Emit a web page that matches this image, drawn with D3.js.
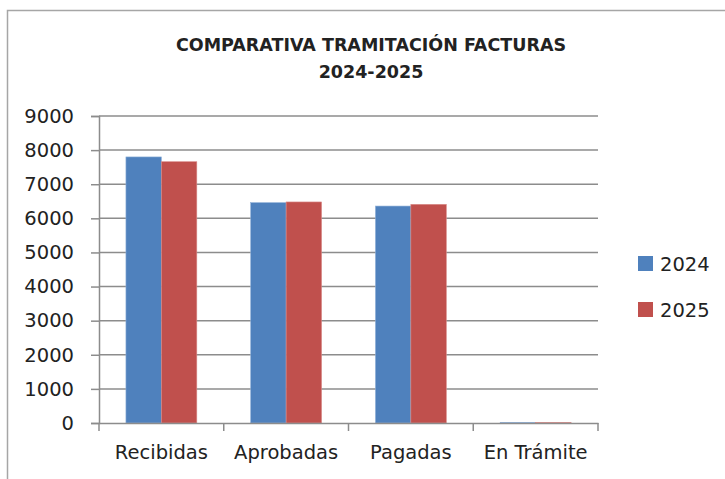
<!DOCTYPE html>
<html>
<head>
<meta charset="utf-8">
<script src="https://cdn.jsdelivr.net/npm/d3@7"></script>
<style>
  body { margin: 0; background: #fff; }
  text { font-family: "DejaVu Sans", sans-serif; fill: #222; }
</style>
</head>
<body>
<div id="chart"></div>
<script>
var categories = ["Recibidas", "Aprobadas", "Pagadas", "En Trámite"];
var seriesNames = ["2024", "2025"];
var values2024 = [7800, 6460, 6360, 12];
var values2025 = [7660, 6480, 6410, 10];
var yTicks = [0, 1000, 2000, 3000, 4000, 5000, 6000, 7000, 8000, 9000];
var colors = ["#4F81BD", "#C0504D"];

var width = 725, height = 479;
var plotLeft = 99, plotRight = 598, plotTop = 116, plotBottom = 423;

var svg = d3.select("#chart").append("svg")
    .attr("width", width)
    .attr("height", height);

// outer chart frame (only left and top edges visible)
svg.append("path")
    .attr("d", "M7.5,479 V10.5 H725")
    .attr("fill", "none")
    .attr("stroke", "#a6a6a6")
    .attr("stroke-width", 1.5);

var title = svg.append("text")
    .attr("text-anchor", "middle")
    .style("font-weight", "bold")
    .style("font-size", "17.5px");
title.append("tspan").attr("x", 371).attr("y", 51).text("COMPARATIVA TRAMITACIÓN FACTURAS");
title.append("tspan").attr("x", 371).attr("y", 78).text("2024-2025");

var x = d3.scaleBand().domain(categories).range([plotLeft, plotRight]);
var x1 = d3.scaleBand().domain(seriesNames)
    .range([0, x.bandwidth()]).paddingOuter(0.76);
var y = d3.scaleLinear().domain([0, 9000]).range([plotBottom, plotTop]);

// gridlines
svg.append("g").selectAll("line")
    .data(yTicks.filter(function(d) { return d > 0; }))
    .join("line")
    .attr("x1", plotLeft).attr("x2", plotRight)
    .attr("y1", function(d) { return y(d); })
    .attr("y2", function(d) { return y(d); })
    .attr("stroke", "#8c8c8c")
    .attr("stroke-width", 1.5);

// bars
var data = categories.map(function(c, i) {
  return { cat: c, vals: [values2024[i], values2025[i]] };
});
var groups = svg.append("g").selectAll("g")
    .data(data)
    .join("g")
    .attr("transform", function(d) { return "translate(" + x(d.cat) + ",0)"; });
groups.selectAll("rect")
    .data(function(d) { return d.vals.map(function(v, j) { return { s: seriesNames[j], v: v, j: j }; }); })
    .join("rect")
    .attr("x", function(d) { return x1(d.s); })
    .attr("width", x1.bandwidth())
    .attr("y", function(d) { return y(d.v); })
    .attr("height", function(d) { return plotBottom - y(d.v); })
    .attr("fill", function(d) { return colors[d.j]; })
    .attr("stroke", function(d) { return d.j ? "#d88a88" : "#8fb0d8"; })
    .attr("stroke-width", 0.6);

// y axis
var yAxis = svg.append("g")
    .attr("transform", "translate(" + plotLeft + ",0)")
    .call(d3.axisLeft(y).tickValues(yTicks).tickSize(8).tickPadding(17).tickFormat(d3.format("d")));
yAxis.select(".domain").attr("stroke", "#8c8c8c").attr("stroke-width", 1.5);
yAxis.selectAll(".tick line").attr("stroke", "#8c8c8c").attr("stroke-width", 1.5);
yAxis.selectAll("text").style("font-size", "19.5px").style("font-family", "DejaVu Sans, sans-serif").attr("fill", "#222");

// x axis
var xAxis = svg.append("g")
    .attr("transform", "translate(0," + plotBottom + ")")
    .call(d3.axisBottom(x).tickSize(0).tickPadding(22));
xAxis.select(".domain").attr("stroke", "#8c8c8c").attr("stroke-width", 1.5);
xAxis.selectAll("text").style("font-size", "19.5px").style("font-family", "DejaVu Sans, sans-serif").attr("fill", "#222");
xAxis.append("g").selectAll("line")
    .data(categories.concat([null]))
    .join("line")
    .attr("x1", function(d) { return d === null ? plotRight : x(d); })
    .attr("x2", function(d) { return d === null ? plotRight : x(d); })
    .attr("y1", 0).attr("y2", 8)
    .attr("stroke", "#8c8c8c")
    .attr("stroke-width", 1.5);

// legend
var legend = svg.append("g").selectAll("g")
    .data(seriesNames)
    .join("g")
    .attr("transform", function(d, i) { return "translate(638," + (256 + i * 46) + ")"; });
legend.append("rect")
    .attr("width", 15).attr("height", 15)
    .attr("fill", function(d, i) { return colors[i]; });
legend.append("text")
    .attr("x", 22).attr("y", 15)
    .style("font-size", "19.5px")
    .text(function(d) { return d; });
</script>
</body>
</html>
